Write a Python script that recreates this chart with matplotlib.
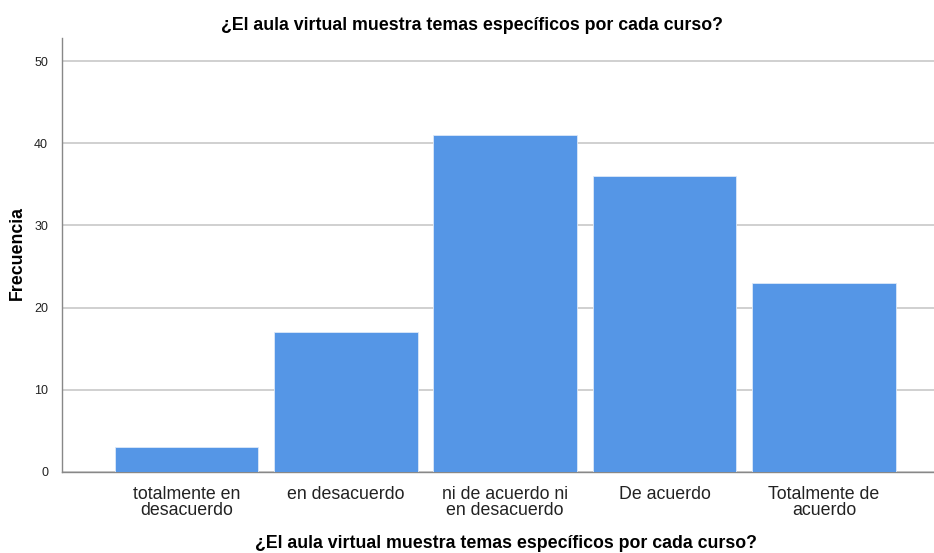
import matplotlib.pyplot as plt

# Datos
categorias = ["totalmente en\ndesacuerdo", "en desacuerdo", "ni de acuerdo ni\nen desacuerdo",
              "De acuerdo", "Totalmente de\nacuerdo"]
frecuencias = [3, 17, 41, 36, 23]
yticks = [0, 10, 20, 30, 40, 50]
titulo = "¿El aula virtual muestra temas específicos por cada curso?"

plt.rcParams['font.family'] = ['Liberation Sans', 'DejaVu Sans']

fig = plt.figure(figsize=(9.34, 5.53), dpi=100)
ax = fig.add_axes([0.0664, 0.1465, 0.9336, 0.7848])

x = range(len(categorias))
ax.bar(x, frecuencias, width=0.9, color="#5596e6", edgecolor="#dce8f8", linewidth=0.6, zorder=3)

ax.set_xlim(-0.78, 4.69)
ax.set_ylim(0, 52.8)
ax.set_yticks(yticks)
ax.set_yticklabels([str(t) for t in yticks], fontsize=9, color="#222222")
ax.set_xticks(list(x))
ax.set_xticklabels(categorias, fontsize=12.8, color="#222222", linespacing=0.95)
ax.tick_params(axis="both", length=0)
ax.tick_params(axis="y", pad=10)
ax.tick_params(axis="x", pad=10)

ax.yaxis.grid(True, color="#c8c8c8", linewidth=1.2, zorder=0)
for s in ["top", "right"]:
    ax.spines[s].set_visible(False)
for s in ["left", "bottom"]:
    ax.spines[s].set_color("#888888")
    ax.spines[s].set_linewidth(1.0)

# etiquetas de ejes colocadas a mano
fig.text(17 / 934, 1 - 253 / 553, "Frecuencia", rotation=90, ha="center", va="center",
         fontsize=12.8, fontweight="bold")
fig.text(506 / 934, 1 / 553, titulo, ha="center", va="bottom", fontsize=12.8, fontweight="bold")
fig.text(0.505, 0.954, titulo, ha="center", va="center", fontsize=12.8, fontweight="bold")

fig.savefig("out.png", dpi=100)
